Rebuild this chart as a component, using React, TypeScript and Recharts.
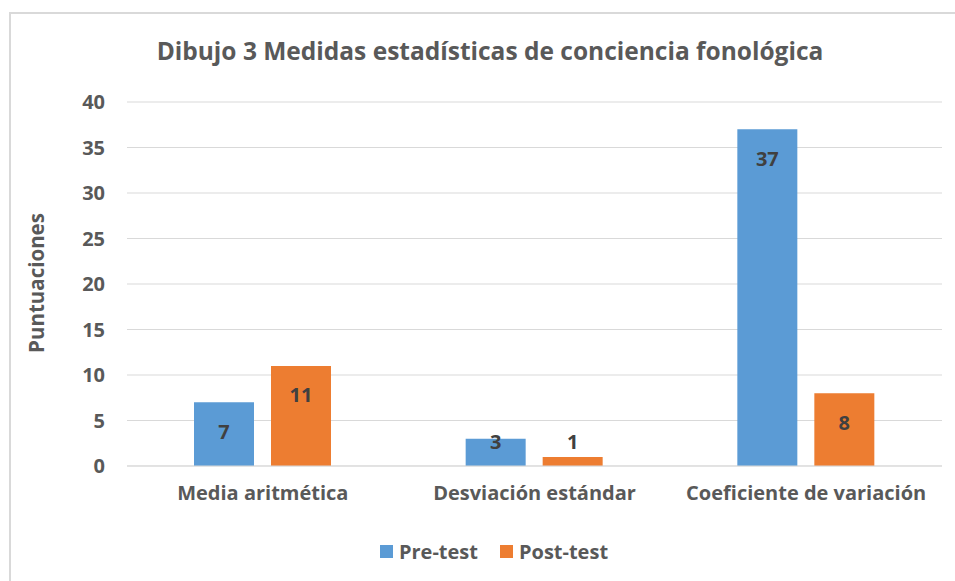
import React from 'react';
import { BarChart, Bar, XAxis, YAxis, CartesianGrid, Legend, LabelList } from 'recharts';

const categories = ['Media aritmética', 'Desviación estándar', 'Coeficiente de variación'];
const preTest = [7, 3, 37];
const postTest = [11, 1, 8];
const yTicks = [0, 5, 10, 15, 20, 25, 30, 35, 40];

const data = categories.map((name, i) => ({ name, pre: preTest[i], post: postTest[i] }));

const FONT = '"Open Sans", "Noto Sans", sans-serif';
const GREY = '#595959';

// Excel-like "inside end" label, kept above the axis for short bars
const BarValueLabel = (props: any) => {
  const { x, y, width, height, value } = props;
  const base = y + height;
  const cy = Math.min(y + 29, base - 25);
  return (
    <text
      x={x + width / 2}
      y={cy}
      textAnchor="middle"
      dominantBaseline="central"
      fill="#404040"
      fontFamily={FONT}
      fontWeight={700}
      fontSize={20}
    >
      {value}
    </text>
  );
};

const legendItems = [
  { name: 'Pre-test', color: '#5B9BD5' },
  { name: 'Post-test', color: '#ED7D31' },
];

const LegendContent = () => (
  <div
    style={{
      display: 'flex',
      justifyContent: 'center',
      gap: 22,
      paddingLeft: 46,
      paddingTop: 2,
      fontFamily: FONT,
      fontWeight: 700,
      fontSize: 20,
      color: GREY,
    }}
  >
    {legendItems.map((it) => (
      <div key={it.name} style={{ display: 'flex', alignItems: 'center', gap: 6 }}>
        <span style={{ display: 'inline-block', width: 13, height: 13, background: it.color }} />
        <span>{it.name}</span>
      </div>
    ))}
  </div>
);

const App: React.FC = () => {
  return (
    <div style={{ position: 'relative', width: 955, height: 581, overflow: 'hidden', background: '#fff' }}>
      <style>{`body{margin:0}`}</style>
      <div
        style={{
          position: 'absolute',
          left: 9,
          top: 12,
          width: 1200,
          height: 1200,
          border: '2px solid #d9d9d9',
          boxSizing: 'border-box',
        }}
      />
      <div
        style={{
          position: 'absolute',
          left: 0,
          top: 34,
          width: 980,
          textAlign: 'center',
          fontFamily: FONT,
          fontWeight: 700,
          fontSize: 24.5,
          color: GREY,
        }}
      >
        Dibujo 3 Medidas estadísticas de conciencia fonológica
      </div>
      <div
        style={{
          position: 'absolute',
          left: 36,
          top: 283,
          transform: 'translate(-50%, -50%) rotate(-90deg)',
          whiteSpace: 'nowrap',
          fontFamily: FONT,
          fontWeight: 700,
          fontSize: 20.5,
          color: GREY,
        }}
      >
        Puntuaciones
      </div>
      <div style={{ position: 'absolute', left: 0, top: 0 }}>
        <BarChart
          width={955}
          height={581}
          data={data}
          margin={{ top: 102, right: 13, left: 0, bottom: 0 }}
          barSize={60}
          barGap={17}
        >
          <CartesianGrid vertical={false} stroke="#d9d9d9" strokeWidth={1} />
          <XAxis
            dataKey="name"
            axisLine={{ stroke: '#d9d9d9', strokeWidth: 1 }}
            tickLine={false}
            tickSize={0}
            tickMargin={20}
            height={70}
            tick={{ fill: GREY, fontFamily: FONT, fontWeight: 700, fontSize: 20 }}
          />
          <YAxis
            domain={[0, 40]}
            ticks={yTicks}
            width={127}
            axisLine={false}
            tickLine={false}
            tickSize={0}
            tickMargin={22}
            tick={{ fill: GREY, fontFamily: FONT, fontWeight: 700, fontSize: 20 }}
          />
          <Legend verticalAlign="bottom" height={45} content={LegendContent} />
          <Bar dataKey="pre" name="Pre-test" fill="#5B9BD5" isAnimationActive={false}>
            <LabelList dataKey="pre" content={BarValueLabel} />
          </Bar>
          <Bar dataKey="post" name="Post-test" fill="#ED7D31" isAnimationActive={false}>
            <LabelList dataKey="post" content={BarValueLabel} />
          </Bar>
        </BarChart>
      </div>
    </div>
  );
};

export default App;
